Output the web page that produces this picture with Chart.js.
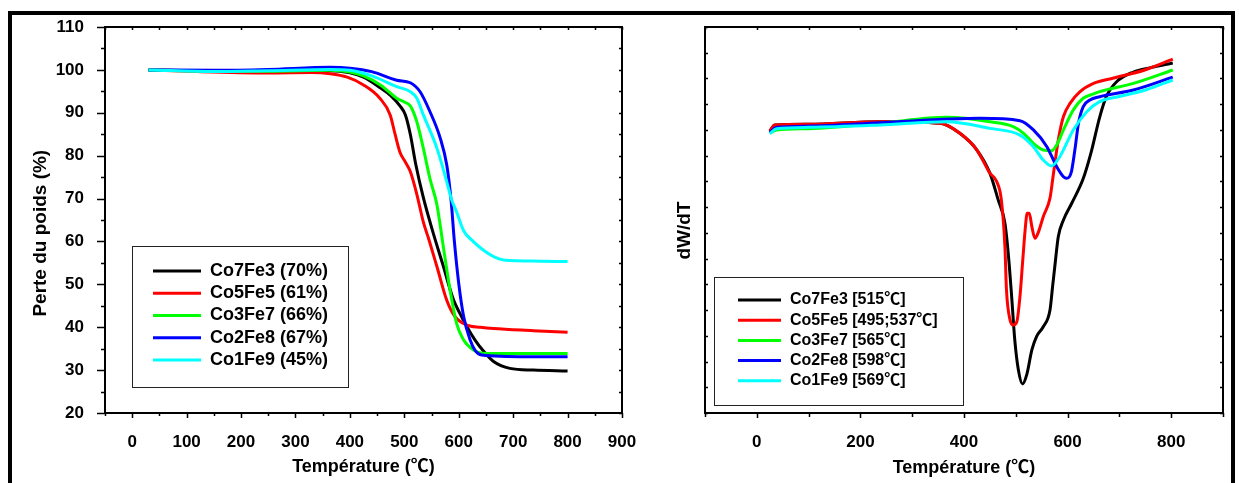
<!DOCTYPE html>
<html>
<head>
<meta charset="utf-8">
<script src="https://cdn.jsdelivr.net/npm/chart.js@4.4.0/dist/chart.umd.min.js"></script>
<style>
  html, body { margin: 0; padding: 0; background: #fff; }
  body { width: 1239px; height: 483px; position: relative; overflow: hidden; }
  #tgaBox { position: absolute; left: 0; top: 0; width: 640px; height: 483px; }
  #dtgBox { position: absolute; left: 640px; top: 0; width: 599px; height: 483px; }
  #frame  { position: absolute; left: 8px; top: 11px; width: 1227px; height: 520px;
            box-sizing: border-box; border: 4px solid #000; pointer-events: none; }
</style>
</head>
<body>
<div id="tgaBox"><canvas id="tgaChart"></canvas></div>
<div id="dtgBox"><canvas id="dtgChart"></canvas></div>
<div id="frame"></div>
<script>
//  TGA (left) - weight %
const tgaLabels = ['Co7Fe3 (70%)', 'Co5Fe5 (61%)', 'Co3Fe7 (66%)', 'Co2Fe8 (67%)', 'Co1Fe9 (45%)'];

const tgaT_Co7Fe3 = [30, 150, 250, 364, 400, 425, 455, 475, 492, 502, 511, 521, 535, 553, 572, 590, 603, 615, 630, 645, 664, 694, 737, 800];
const tgaW_Co7Fe3 = [100, 99.7, 99.6, 99.8, 99.3, 98.3, 95.9, 94.0, 91.6, 89.5, 85.0, 78.0, 70.2, 62.0, 54.1, 46.5, 43.0, 40.1, 37.0, 34.5, 32.0, 30.4, 30.0, 29.8];

const tgaT_Co5Fe5 = [30, 120, 250, 330, 364, 395, 425, 455, 474, 483, 492, 502, 511, 523, 535, 545, 560, 578, 593, 615, 640, 664, 737, 800];
const tgaW_Co5Fe5 = [100, 99.6, 99.3, 99.4, 99.1, 98.3, 96.5, 93.4, 89.5, 85.0, 80.8, 78.5, 76.3, 71.0, 64.5, 60.5, 54.1, 46.3, 42.5, 40.5, 40.0, 39.7, 39.2, 38.8];

const tgaT_Co3Fe7 = [30, 150, 250, 364, 400, 425, 456, 486, 500, 511, 523, 535, 547, 560, 572, 584, 596, 609, 627, 651, 700, 800];
const tgaW_Co3Fe7 = [100, 99.7, 99.7, 99.9, 99.5, 98.6, 96.5, 93.4, 92.5, 91.6, 87.9, 81.7, 74.7, 68.5, 58.5, 48.7, 40.9, 37.0, 34.7, 33.9, 33.9, 33.9];

const tgaT_Co2Fe8 = [30, 150, 250, 364, 400, 440, 486, 511, 529, 547, 566, 578, 586, 592, 600, 609, 621, 630, 642, 725, 800];
const tgaW_Co2Fe8 = [100, 99.9, 100.1, 100.6, 100.4, 99.6, 97.6, 97.0, 94.9, 90.3, 84.1, 77.8, 69.5, 60.0, 50.2, 42.5, 37.0, 34.6, 33.5, 33.1, 33.1];

const tgaT_Co1Fe9 = [30, 150, 250, 364, 400, 440, 486, 511, 523, 535, 560, 578, 587, 596, 609, 625, 645, 665, 682, 750, 800];
const tgaW_Co1Fe9 = [100, 99.6, 99.8, 100.1, 99.9, 98.6, 96.1, 94.9, 93.4, 89.5, 81.7, 73.9, 69.7, 66.9, 62.5, 60.2, 58.0, 56.4, 55.7, 55.4, 55.3];

const tgaXTicks = [0, 100, 200, 300, 400, 500, 600, 700, 800, 900];
const tgaXMinor = [-50, 50, 150, 250, 350, 450, 550, 650, 750, 850];
const tgaYTicks = [20, 30, 40, 50, 60, 70, 80, 90, 100, 110];
const tgaYMinor = [25, 35, 45, 55, 65, 75, 85, 95, 105];

//  DTG (right) - dW/dT, arbitrary units
const dtgLabels = ['Co7Fe3 [515\u2103]', 'Co5Fe5 [495;537\u2103]', 'Co3Fe7 [565\u2103]', 'Co2Fe8 [598\u2103]', 'Co1Fe9 [569\u2103]'];

const dtgT_Co7Fe3 = [25, 35, 100, 238, 354, 392, 425, 450, 466, 479, 486, 492, 498, 505, 513, 521, 531, 540, 553, 566, 571, 576, 582, 592, 608, 630, 645, 662, 675, 696, 727, 760, 803];
const dtgD_Co7Fe3 = [10.96, 11.19, 11.22, 11.32, 11.26, 10.87, 10.22, 9.32, 8.28, 7.37, 6.07, 4.52, 2.84, 1.67, 1.13, 1.48, 2.45, 2.97, 3.35, 4.0, 4.91, 5.82, 6.85, 7.5, 8.15, 9.1, 10.1, 11.5, 12.3, 12.9, 13.25, 13.42, 13.6];

const dtgT_Co5Fe5 = [25, 35, 100, 238, 354, 392, 425, 450, 463, 472, 479, 482, 489, 495, 502, 508, 513, 518, 522, 526, 531, 537, 544, 553, 566, 572, 582, 592, 605, 624, 650, 689, 749, 803];
const dtgD_Co5Fe5 = [10.96, 11.19, 11.22, 11.32, 11.26, 10.87, 10.22, 9.32, 9.0, 8.3, 6.46, 4.78, 3.61, 3.42, 3.55, 4.52, 5.82, 7.11, 7.76, 7.76, 7.24, 6.79, 7.05, 7.63, 8.35, 9.2, 10.61, 11.52, 12.04, 12.49, 12.81, 13.02, 13.33, 13.75];

const dtgT_Co3Fe7 = [25, 38, 100, 238, 367, 450, 495, 515, 534, 553, 569, 579, 592, 611, 630, 650, 662, 727, 803];
const dtgD_Co3Fe7 = [10.87, 11.0, 11.05, 11.26, 11.49, 11.32, 11.13, 10.87, 10.48, 10.22, 10.19, 10.42, 11.0, 11.78, 12.23, 12.4, 12.49, 12.81, 13.33];

const dtgT_Co2Fe8 = [25, 38, 100, 238, 431, 508, 534, 560, 579, 592, 598, 607, 614, 621, 630, 643, 662, 727, 803];
const dtgD_Co2Fe8 = [10.9, 11.1, 11.15, 11.28, 11.45, 11.36, 11.0, 10.35, 9.57, 9.18, 9.12, 9.35, 10.22, 11.26, 11.9, 12.16, 12.29, 12.55, 13.05];

const dtgT_Co1Fe9 = [25, 38, 100, 238, 367, 450, 508, 534, 553, 569, 585, 611, 637, 662, 700, 750, 803];
const dtgD_Co1Fe9 = [10.85, 11.05, 11.1, 11.19, 11.32, 11.06, 10.8, 10.35, 9.83, 9.6, 9.96, 11.0, 11.71, 12.1, 12.3, 12.55, 12.94];

const dtgXTicks = [0, 200, 400, 600, 800];
const dtgXMinor = [-100, 100, 300, 500, 700, 900];
const dtgYTicks = [0, 1, 2, 3, 4, 5, 6, 7, 8, 9, 10, 11, 12, 13, 14, 15];

const seriesColors = ['#000000', '#ff0000', '#00ff00', '#0000ff', '#00ffff'];

const FONT = "'Liberation Sans', Arial, 'Noto Sans CJK SC', sans-serif";
Chart.defaults.font.family = FONT;
Chart.defaults.color = '#000';

//  Frame + Origin-style tick marks (len > 0 outward, len < 0 inward)
const frameTicks = {
  id: 'frameTicks',
  afterDraw(chart, args, opts) {
    const { ctx, chartArea: a, scales } = chart;
    ctx.save();
    ctx.strokeStyle = '#000';
    ctx.lineWidth = 2;
    ctx.strokeRect(a.left, a.top, a.right - a.left, a.bottom - a.top);
    ctx.lineWidth = 1.5;
    opts.sets.forEach(set => {
      const sc = set.edge === 'top' || set.edge === 'bottom' ? scales.x : scales.y;
      ctx.beginPath();
      set.values.forEach(v => {
        const p = Math.round(sc.getPixelForValue(v)) + 0.5;
        if (set.edge === 'bottom') { ctx.moveTo(p, a.bottom); ctx.lineTo(p, a.bottom + set.len); }
        if (set.edge === 'top')    { ctx.moveTo(p, a.top);    ctx.lineTo(p, a.top - set.len); }
        if (set.edge === 'left')   { ctx.moveTo(a.left, p);   ctx.lineTo(a.left - set.len, p); }
        if (set.edge === 'right')  { ctx.moveTo(a.right, p);  ctx.lineTo(a.right + set.len, p); }
      });
      ctx.stroke();
    });
    ctx.restore();
  }
};

//  Boxed legend drawn inside the plot
const boxLegend = {
  id: 'boxLegend',
  afterDraw(chart, args, o) {
    const ctx = chart.ctx;
    ctx.save();
    ctx.fillStyle = '#fff';
    ctx.fillRect(o.box[0], o.box[1], o.box[2] - o.box[0], o.box[3] - o.box[1]);
    ctx.strokeStyle = '#222';
    ctx.lineWidth = 1;
    ctx.strokeRect(o.box[0] + 0.5, o.box[1] + 0.5, o.box[2] - o.box[0], o.box[3] - o.box[1]);
    ctx.font = o.font;
    ctx.textBaseline = 'middle';
    chart.data.datasets.forEach((ds, i) => {
      const y = o.y0 + i * o.dy;
      ctx.strokeStyle = ds.borderColor;
      ctx.lineWidth = 3;
      ctx.beginPath();
      ctx.moveTo(o.line[0], y);
      ctx.lineTo(o.line[1], y);
      ctx.stroke();
      ctx.fillStyle = '#000';
      ctx.fillText(ds.label, o.textX, y);
    });
    ctx.restore();
  }
};

function makeSets(labels, xs, ys) {
  return labels.map((lab, i) => ({
    label: lab,
    data: xs[i].map((t, k) => ({ x: t, y: ys[i][k] })),
    showLine: true,
    borderColor: seriesColors[i],
    backgroundColor: seriesColors[i],
    borderWidth: 3,
    pointRadius: 0,
    cubicInterpolationMode: 'monotone',
    order: labels.length - i,
  }));
}

const fixedTicks = vals => scale => { scale.ticks = vals.map(v => ({ value: v })); };
// pin the axis boxes so the plot area sits where the reference has it
const fitX = h => s => { s.height = h; s.paddingLeft = 0; s.paddingRight = 0; };
const fitY = w => s => { s.width = w; s.paddingTop = 0; s.paddingBottom = 0; };

//  Left chart
new Chart(document.getElementById('tgaChart'), {
  type: 'scatter',
  data: {
    datasets: makeSets(tgaLabels,
      [tgaT_Co7Fe3, tgaT_Co5Fe5, tgaT_Co3Fe7, tgaT_Co2Fe8, tgaT_Co1Fe9],
      [tgaW_Co7Fe3, tgaW_Co5Fe5, tgaW_Co3Fe7, tgaW_Co2Fe8, tgaW_Co1Fe9])
  },
  options: {
    responsive: true,
    maintainAspectRatio: false,
    animation: false,
    layout: { padding: { left: 0, top: 27, right: 18, bottom: 0 } },
    scales: {
      x: {
        type: 'linear', min: -50, max: 900,
        afterBuildTicks: fixedTicks(tgaXTicks),
        afterFit: fitX(70),
        grid: { display: false }, border: { display: false },
        ticks: { padding: 11, font: { size: 17, weight: 'bold' }, callback: v => v },
        title: { display: true, text: 'Temp\u00e9rature (\u2103)', font: { size: 18, weight: 'bold' }, padding: { top: 0, bottom: 5 } }
      },
      y: {
        type: 'linear', min: 20, max: 110,
        afterBuildTicks: fixedTicks(tgaYTicks),
        afterFit: fitY(105),
        grid: { display: false }, border: { display: false },
        ticks: { padding: 13, font: { size: 17, weight: 'bold' }, callback: v => v },
        title: { display: true, text: 'Perte du poids (%)' + '\u00a0'.repeat(5), font: { size: 19, weight: 'bold' }, padding: { top: 29, bottom: 0 } }
      }
    },
    plugins: {
      legend: { display: false },
      tooltip: { enabled: false },
      frameTicks: {
        sets: [
          { edge: 'bottom', values: tgaXTicks, len: 5 },
          { edge: 'bottom', values: tgaXMinor, len: 3 },
          { edge: 'top', values: tgaXTicks.concat(tgaXMinor), len: -3 },
          { edge: 'left', values: tgaYTicks, len: 8 },
          { edge: 'left', values: tgaYMinor, len: 4 },
          { edge: 'right', values: tgaYTicks.concat(tgaYMinor), len: -3 }
        ]
      },
      boxLegend: {
        box: [132, 246, 348, 387], line: [153, 201], textX: 210,
        y0: 271, dy: 22.25, font: 'bold 18px ' + FONT
      }
    }
  },
  plugins: [frameTicks, boxLegend]
});

//  Right chart
new Chart(document.getElementById('dtgChart'), {
  type: 'scatter',
  data: {
    datasets: makeSets(dtgLabels,
      [dtgT_Co7Fe3, dtgT_Co5Fe5, dtgT_Co3Fe7, dtgT_Co2Fe8, dtgT_Co1Fe9],
      [dtgD_Co7Fe3, dtgD_Co5Fe5, dtgD_Co3Fe7, dtgD_Co2Fe8, dtgD_Co1Fe9])
  },
  options: {
    responsive: true,
    maintainAspectRatio: false,
    animation: false,
    layout: { padding: { left: 0, top: 27, right: 16, bottom: 0 } },
    scales: {
      x: {
        type: 'linear', min: -100, max: 900,
        afterBuildTicks: fixedTicks(dtgXTicks),
        afterFit: fitX(70),
        grid: { display: false }, border: { display: false },
        ticks: { padding: 11, font: { size: 17, weight: 'bold' }, callback: v => v },
        title: { display: true, text: 'Temp\u00e9rature (\u2103)', font: { size: 18, weight: 'bold' }, padding: { top: 0, bottom: 4 } }
      },
      y: {
        type: 'linear', min: 0, max: 15,
        afterFit: fitY(65),
        grid: { display: false }, border: { display: false },
        ticks: { display: false },
        title: { display: true, text: 'dW/dT' + '\u00a0'.repeat(4), font: { size: 19, weight: 'bold' }, padding: { top: 33, bottom: 0 } }
      }
    },
    plugins: {
      legend: { display: false },
      tooltip: { enabled: false },
      frameTicks: {
        sets: [
          { edge: 'bottom', values: dtgXTicks, len: 5 },
          { edge: 'bottom', values: dtgXMinor, len: 4 },
          { edge: 'top', values: dtgXTicks.concat(dtgXMinor), len: -3 },
          { edge: 'left', values: dtgYTicks, len: -3 },
          { edge: 'right', values: dtgYTicks, len: -3 }
        ]
      },
      boxLegend: {
        box: [74, 277, 323, 405], line: [98, 141], textX: 150,
        y0: 300, dy: 20.2, font: 'bold 16px ' + FONT
      }
    }
  },
  plugins: [frameTicks, boxLegend]
});
</script>
</body>
</html>
